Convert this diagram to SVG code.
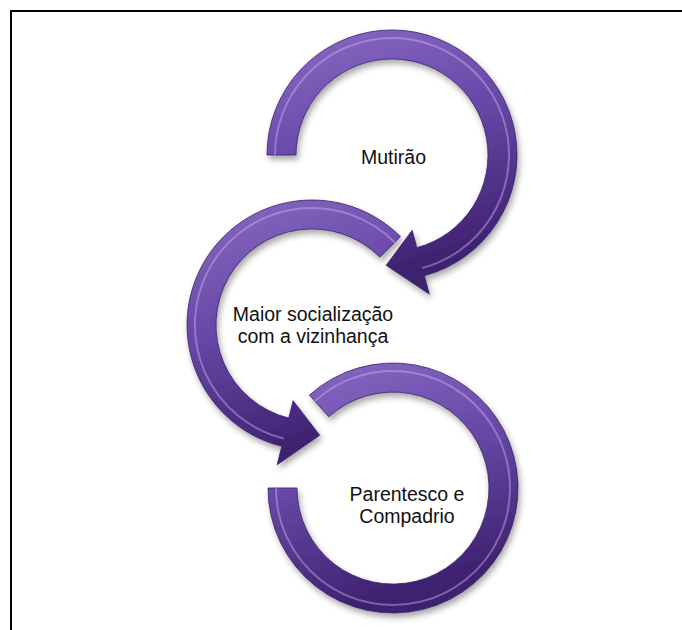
<svg xmlns="http://www.w3.org/2000/svg" width="682" height="630" viewBox="0 0 682 630">
<defs>
<linearGradient id="g" x1="0" y1="0" x2="0.3" y2="1">
<stop offset="0" stop-color="#8a6bc6"/>
<stop offset="0.5" stop-color="#6747a6"/>
<stop offset="1" stop-color="#3e2170"/>
</linearGradient>
<filter id="sh" x="-20%" y="-20%" width="140%" height="140%">
<feDropShadow dx="2" dy="4" stdDeviation="3" flood-color="#000" flood-opacity="0.35"/>
</filter>
<style>
.arr{fill:url(#g);stroke:#3a1f66;stroke-width:0.8;filter:url(#sh)}
.hl{fill:none;stroke:#c9b4f0;stroke-width:2;opacity:0.45}
.lbl{font-family:"Liberation Sans",Arial,sans-serif;font-size:19.5px;fill:#111;text-anchor:middle}
.frame{stroke:#000;stroke-width:2;fill:none}
</style>
</defs>
<rect width="682" height="630" fill="#fff"/>
<g id="frame">
<path class="frame" d="M11 630 V11 H682"/>
</g>
<g id="connectors"></g>
<g id="node-mutirao">
<path class="arr" d="M267 155 A125 125 0 1 1 424.4 275.7 L429.3 294.1 L386.2 265.3 L412.2 230.3 L416.8 247.7 A96 96 0 1 0 296 155 Z"/>
<path class="hl" d="M275 155 A117 117 0 1 1 422.3 268"/>
<text class="lbl" x="393.5" y="164">Mutirão</text>
</g>
<g id="node-socializacao">
<path class="arr" d="M400.4 236.6 A125 125 0 1 0 281.8 446.3 L277.2 464.7 L319.7 435.2 L293.1 400.7 L288.8 418.1 A96 96 0 1 1 379.9 257.1 Z"/>
<path class="hl" d="M394.7 242.3 A117 117 0 1 0 283.7 438.5"/>
<text class="lbl" x="313" y="321">Maior socialização</text>
<text class="lbl" x="313" y="343">com a vizinhança</text>
</g>
<g id="node-parentesco">
<path class="arr" d="M309.4 395.1 A125 125 0 1 1 268 488 L297 488 A96 96 0 1 0 328.8 416.7 Z"/>
<path class="hl" d="M314.7 401.1 A117 117 0 1 1 276 488"/>
<text class="lbl" x="407" y="501">Parentesco e</text>
<text class="lbl" x="407" y="523">Compadrio</text>
</g>
</svg>
